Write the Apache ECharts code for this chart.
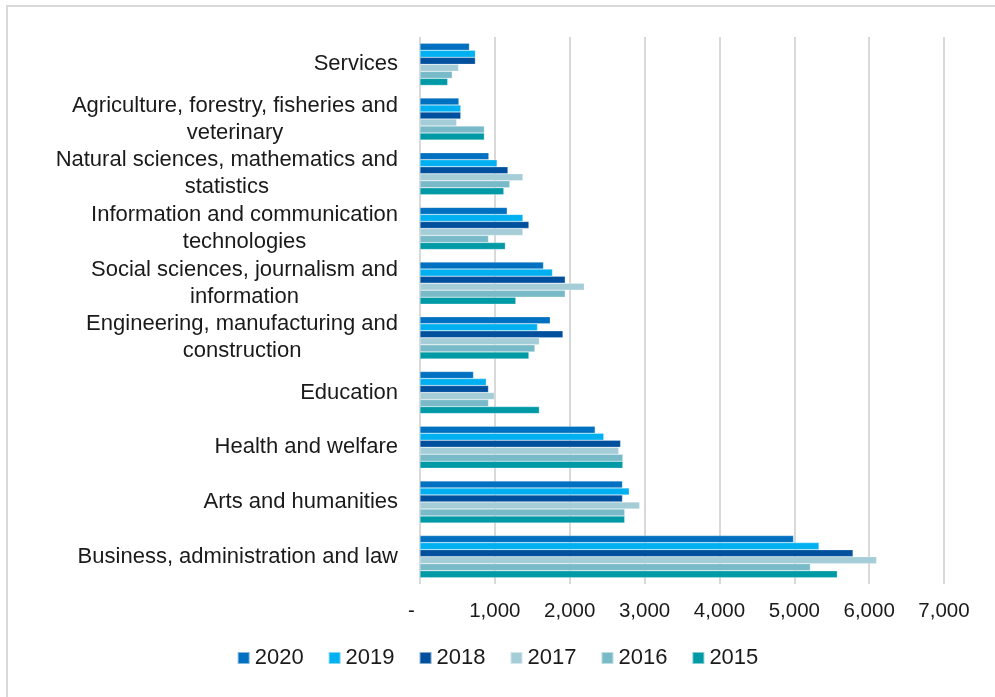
<!DOCTYPE html>
<html>
<head>
<meta charset="utf-8">
<script src="https://cdn.jsdelivr.net/npm/echarts@6/dist/echarts.min.js"></script>
<style>html,body{margin:0;padding:0;background:#fff}#c{width:995px;height:697px}</style>
</head>
<body>
<div id="c"></div>
<script>
// categories listed top to bottom
var categories = [
  'Services',
  'Agriculture, forestry, fisheries and\nveterinary',
  'Natural sciences, mathematics and\nstatistics',
  'Information and communication\ntechnologies',
  'Social sciences, journalism and\ninformation',
  'Engineering, manufacturing and\nconstruction',
  'Education',
  'Health and welfare',
  'Arts and humanities',
  'Business, administration and law'
];
var years = ['2020', '2019', '2018', '2017', '2016', '2015'];
var v2020 = [660, 520, 920, 1165, 1650, 1740, 715, 2340, 2705, 4990];
var v2019 = [740, 545, 1030, 1375, 1770, 1570, 885, 2455, 2795, 5330];
var v2018 = [740, 545, 1175, 1455, 1940, 1910, 915, 2680, 2705, 5785];
var v2017 = [515, 490, 1375, 1375, 2195, 1595, 995, 2655, 2935, 6100];
var v2016 = [430, 860, 1200, 915, 1940, 1535, 915, 2710, 2735, 5215];
var v2015 = [370, 860, 1120, 1140, 1280, 1455, 1595, 2710, 2735, 5575];
var xTicks = ['-', '1,000', '2,000', '3,000', '4,000', '5,000', '6,000', '7,000'];
var colors = ['#0070C0', '#00B0F0', '#00509E', '#A4CDD8', '#78BAC8', '#0099A6'];

var seriesValues = [v2020, v2019, v2018, v2017, v2016, v2015];
var chart = echarts.init(document.getElementById('c'));
var font = 'Liberation Sans, Arial, sans-serif';
chart.setOption({
  animation: false,
  backgroundColor: '#fff',
  graphic: [{
    type: 'rect', shape: {x: 7, y: 6, width: 1000, height: 720},
    style: {fill: 'none', stroke: '#d9d9d9', lineWidth: 2}, silent: true, z: -1
  }],
  grid: {left: 420, right: 51, top: 37, bottom: 113, containLabel: false},
  legend: {
    data: years, bottom: 23, left: 'center', itemWidth: 12, itemHeight: 12, itemGap: 24,
    icon: 'rect',
    textStyle: {fontFamily: font, fontSize: 22, color: '#1a1a1a'}
  },
  xAxis: {
    type: 'value', min: 0, max: 7000, interval: 1000,
    axisLine: {show: false}, axisTick: {show: false},
    splitLine: {show: true, lineStyle: {color: '#d9d9d9', width: 2}},
    axisLabel: {
      margin: 17, fontFamily: font, fontSize: 20.5, color: '#1a1a1a',
      formatter: function (v) { var s = xTicks[Math.round(v / 1000)]; return v === 0 ? s + '   ' : s; }
    }
  },
  yAxis: {
    type: 'category', data: categories, inverse: true,
    axisLine: {show: false}, axisTick: {show: false},
    axisLabel: {
      margin: 22, align: 'right', fontFamily: font, fontSize: 22, color: '#1a1a1a', lineHeight: 27,
      formatter: function (v) {
        return v.split('\n').map(function (l) { return '{c|' + l + '}'; }).join('\n');
      },
      rich: {c: {align: 'center', fontFamily: font, fontSize: 22, lineHeight: 27, color: '#1a1a1a'}}
    }
  },
  series: years.map(function (y, i) {
    return {
      name: y, type: 'bar', data: seriesValues[i], barGap: '0%', barCategoryGap: '23%',
      itemStyle: {color: colors[i], borderColor: 'rgba(255,255,255,0.5)', borderWidth: 0.5}
    };
  })
});
</script>
</body>
</html>
